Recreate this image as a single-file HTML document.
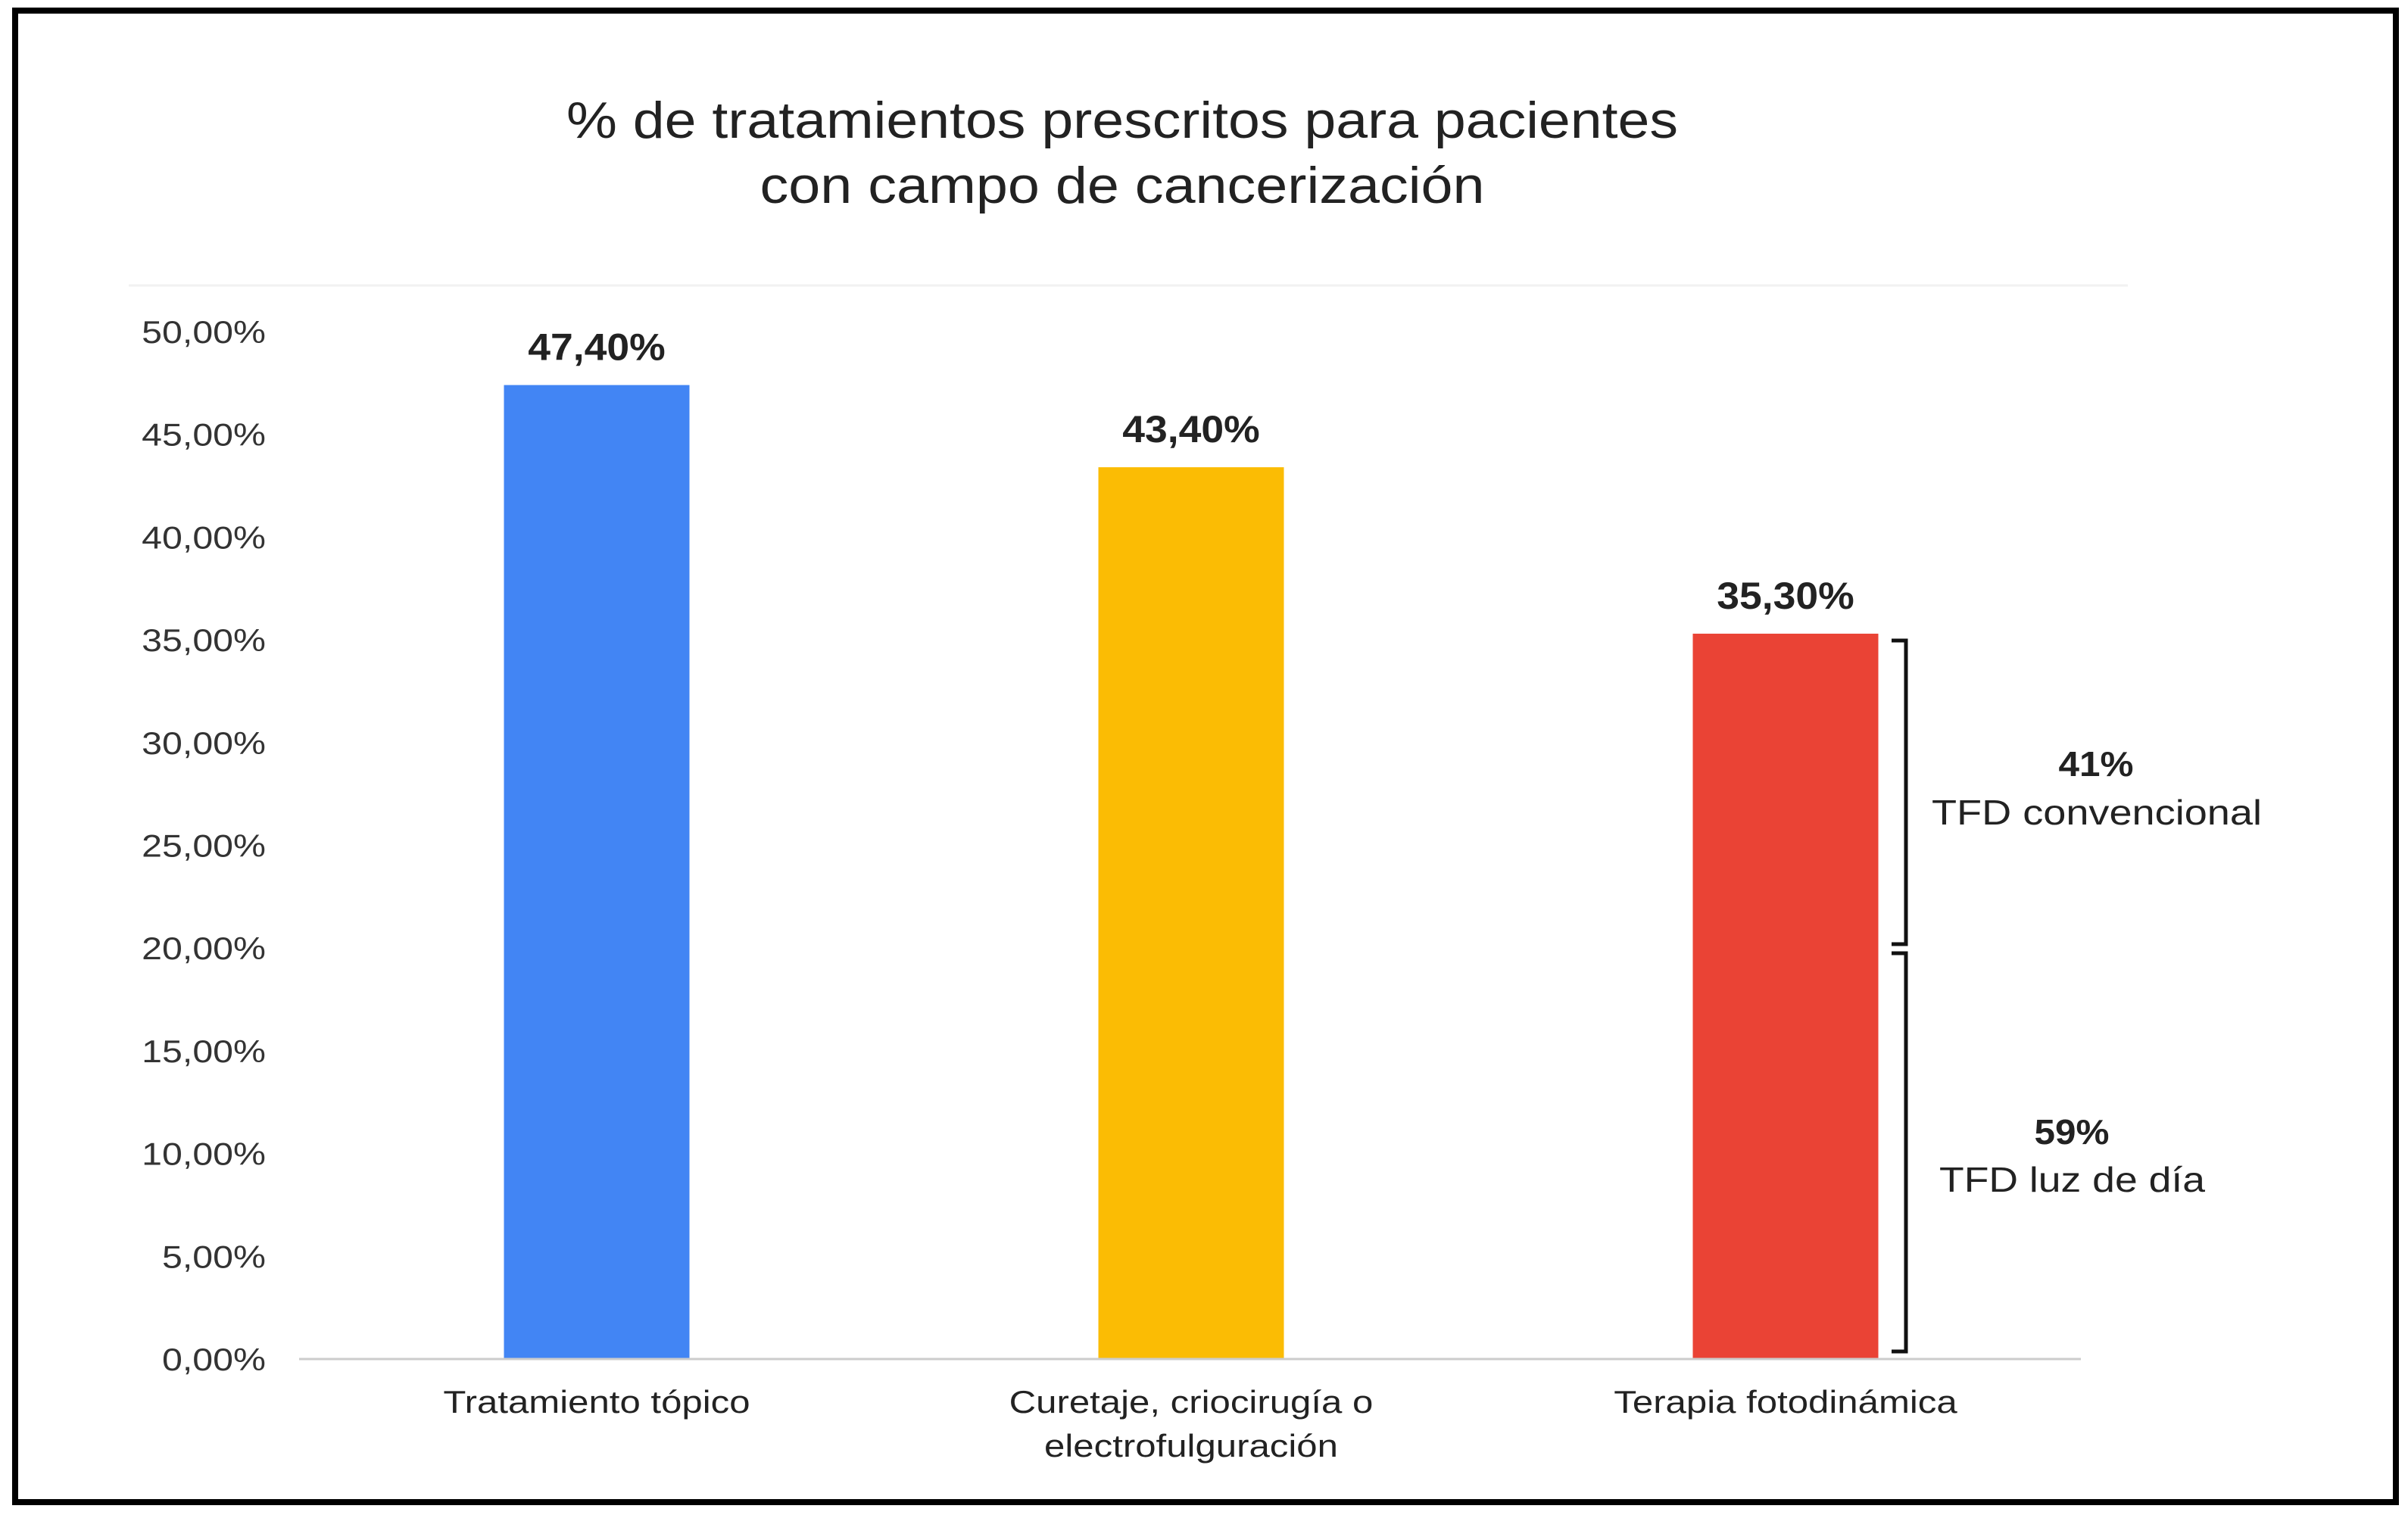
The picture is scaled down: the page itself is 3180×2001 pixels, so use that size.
<!DOCTYPE html>
<html><head><meta charset="utf-8"><style>
html,body{margin:0;padding:0;background:#fff;}
svg{display:block;font-family:"Liberation Sans",Arial,sans-serif;}
</style></head><body>
<svg id="chart" width="3180" height="2001" viewBox="0 0 3180 2001">
<rect x="20" y="14" width="3144" height="1970" fill="#fff" stroke="#000" stroke-width="8"/>
<text x="1482" y="182" font-size="68" text-anchor="middle" fill="#222" textLength="1468" lengthAdjust="spacingAndGlyphs">% de tratamientos prescritos para pacientes</text>
<text x="1482" y="268" font-size="68" text-anchor="middle" fill="#222" textLength="957" lengthAdjust="spacingAndGlyphs">con campo de cancerización</text>
<line x1="170" y1="377" x2="2810" y2="377" stroke="#f2f2f2" stroke-width="3"/>
<g id="yaxis"></g>
<g id="bars"></g>
<g id="xaxis"></g>
<g>
<path d="M2498 846 H2517 V1247 H2498" fill="none" stroke="#111" stroke-width="5"/>
<path d="M2498 1259 H2517 V1785 H2498" fill="none" stroke="#111" stroke-width="5"/>
<text x="2768" y="1025" font-size="46" font-weight="bold" text-anchor="middle" fill="#222" textLength="99" lengthAdjust="spacingAndGlyphs">41%</text>
<text x="2551" y="1089" font-size="46" fill="#222" textLength="436" lengthAdjust="spacingAndGlyphs">TFD convencional</text>
<text x="2736" y="1511" font-size="46" font-weight="bold" text-anchor="middle" fill="#222" textLength="99" lengthAdjust="spacingAndGlyphs">59%</text>
<text x="2561" y="1574" font-size="46" fill="#222" textLength="351" lengthAdjust="spacingAndGlyphs">TFD luz de día</text>
</g>
</svg>
<script>
const categories = [["Tratamiento tópico"], ["Curetaje, criocirugía o", "electrofulguración"], ["Terapia fotodinámica"]];
const values = [47.4, 43.4, 35.3];
const valueLabels = ["47,40%", "43,40%", "35,30%"];
const colors = ["#4285f4", "#fbbc04", "#ea4335"];
const yTicks = [0, 5, 10, 15, 20, 25, 30, 35, 40, 45, 50];
const yTickLabels = ["0,00%", "5,00%", "10,00%", "15,00%", "20,00%", "25,00%", "30,00%", "35,00%", "40,00%", "45,00%", "50,00%"];

const NS = "http://www.w3.org/2000/svg";
const y0 = 1795, yTop = 438, yMax = 50;
const y = v => y0 - (v / yMax) * (y0 - yTop);
const xStart = 395, xEnd = 2748, bw = 245;
const xc = i => 788 + i * 785;
function mk(tag, attrs, parent) {
  const e = document.createElementNS(NS, tag);
  for (const k in attrs) e.setAttribute(k, attrs[k]);
  parent.appendChild(e);
  return e;
}
function stretch(t, f) {
  const w = t.getComputedTextLength();
  t.setAttribute("textLength", (w * f).toFixed(1));
  t.setAttribute("lengthAdjust", "spacingAndGlyphs");
}
const yg = document.getElementById("yaxis");
yTicks.forEach((t, i) => {
  const tx = mk("text", {x: 351, y: y(t) + 15, "font-size": 42, "text-anchor": "end", fill: "#333"}, yg);
  tx.textContent = yTickLabels[i];
  
  
  stretch(tx, 1.15);
});
const bg = document.getElementById("bars");
values.forEach((v, i) => {
  const r = mk("rect", {x: xc(i) - bw / 2, y: y(v), width: bw, height: y0 - y(v), fill: colors[i]}, bg);
  
  
  const t = mk("text", {x: xc(i), y: y(v) - 33, "font-size": 50, "font-weight": "bold", "text-anchor": "middle", fill: "#222"}, bg);
  t.textContent = valueLabels[i];
  
  
  stretch(t, 1.07);
});
const xg = document.getElementById("xaxis");
const axl = mk("line", {x1: xStart, y1: y0, x2: xEnd, y2: y0, stroke: "#ccc", "stroke-width": 3}, xg);


categories.forEach((lines, i) => {
  lines.forEach((ln, j) => {
    const t = mk("text", {x: xc(i), y: 1866 + j * 58, "font-size": 42, "text-anchor": "middle", fill: "#222"}, xg);
    t.textContent = ln;
    
    
    stretch(t, 1.17);
  });
});
</script>
</body></html>
